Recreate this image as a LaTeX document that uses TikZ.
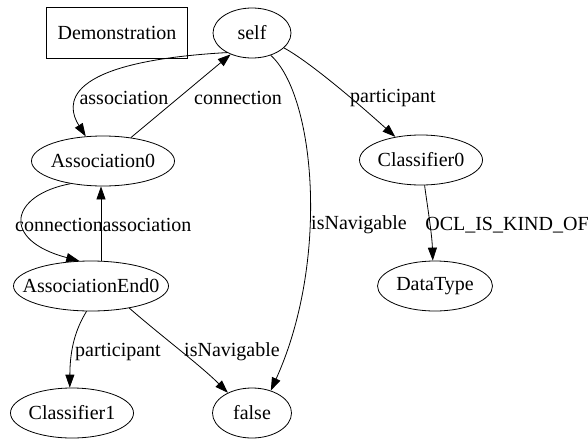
\documentclass[tikz,border=0pt]{standalone}
\usepackage{fontspec}
\setmainfont{Liberation Serif}
\newfontfamily\graphfont{Liberation Serif}
\usetikzlibrary{arrows.meta,shapes.geometric,positioning}
\newcommand{\objtext}[1]{\makebox[0pt]{#1}}

\begin{document}
\begin{tikzpicture}[
    x=1pt, y=-1pt,
    font=\graphfont\fontsize{20}{23}\selectfont,
    line width=0.8pt,
    obj/.style={ellipse, draw, inner sep=0, minimum height=50, minimum width=#1},
    title/.style={rectangle, draw, inner sep=0, minimum width=141, minimum height=51},
    lbl/.style={inner sep=0, anchor=center},
    link/.style={-{Triangle[length=13pt,width=9pt]}}]
\useasboundingbox (0,0) rectangle (588,439);

\node[title] (demo) at (117,33) {Demonstration};
\node[obj=78]  (self)            at (252,33)  {\objtext{self}};
\node[obj=143] (association0)    at (103,161) {\objtext{Association0}};
\node[obj=155] (associationend0) at (91,286)  {\objtext{AssociationEnd0}};
\node[obj=123] (classifier1)     at (72,413)  {\objtext{Classifier1}};
\node[obj=79]  (false)           at (252,413) {\objtext{false}};
\node[obj=123] (classifier0)     at (421,160) {\objtext{Classifier0}};
\node[obj=115] (datatype)        at (435,286) {\objtext{DataType}};

\path[draw, link] (self.218) .. controls (60,62) and (66,105) .. (association0.125);
\path[draw, link] (association0.40) -- (self.225);
\path[draw, link] (association0.215) .. controls (10,195) and (0,240) .. (associationend0.115);
\path[draw, link] ([xshift=10pt]associationend0.north) -- ([xshift=-2pt]association0.south);
\path[draw, link] (self.-50) .. controls (315,95) and (330,260) .. (false.50);
\path[draw, link] (self.-25) .. controls (310,62) and (360,105) .. (classifier0.138);
\path[draw, link] (classifier0.-82) .. controls (428,210) and (432,235) .. (datatype.95);
\path[draw, link] (associationend0.-100) .. controls (75,330) and (70,350) .. (classifier1.95);
\path[draw, link] (associationend0.-30) .. controls (160,335) and (200,365) .. (false.140);

\node[lbl] (lbl-assoc-a) at (124,98)  {association};
\node[lbl] (lbl-conn-a)  at (238,98)  {connection};
\node[lbl] (lbl-part-a)  at (393,98)  {participant};
\node[lbl] (lbl-conn-b)  at (59,225)  {connection};
\node[lbl] (lbl-assoc-b) at (147,225) {association};
\node[lbl] (lbl-nav-a)   at (359,225) {isNavigable};
\node[lbl] (lbl-kind)    at (507,225) {OCL\_IS\_KIND\_OF};
\node[lbl] (lbl-part-b)  at (118,352) {participant};
\node[lbl] (lbl-nav-b)   at (232,352) {isNavigable};

\end{tikzpicture}
\end{document}
